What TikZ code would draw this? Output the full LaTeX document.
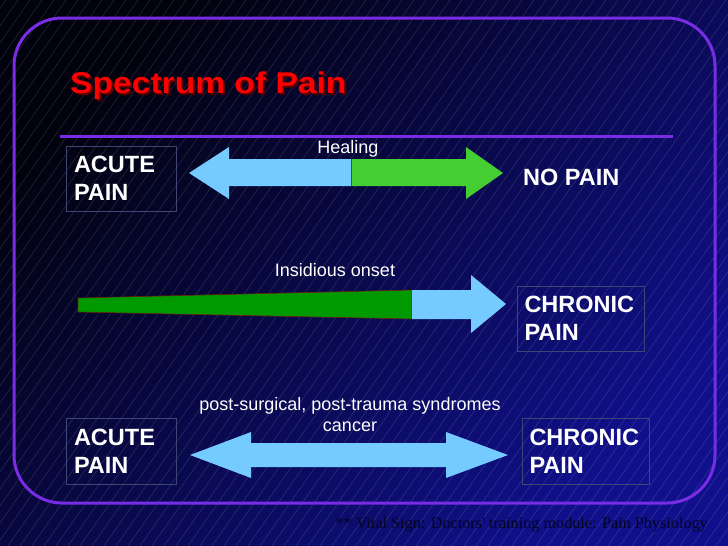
\documentclass[tikz,border=0pt]{standalone}
\usepackage{fontspec}
\setmainfont{Liberation Sans}
\newfontfamily\footfont{Liberation Serif}
\definecolor{bgdark}{RGB}{2,2,14}
\definecolor{bgblue}{RGB}{16,16,140}
\definecolor{framepurple}{RGB}{120,44,230}
\definecolor{boxgray}{RGB}{62,70,115}
\definecolor{arrowblue}{RGB}{117,202,255}
\definecolor{healgreen}{RGB}{68,206,52}
\definecolor{onsetgreen}{RGB}{0,154,0}
\definecolor{onsetedge}{RGB}{110,30,10}
\definecolor{titlered}{RGB}{255,0,0}
\definecolor{titleshadow}{RGB}{90,0,0}
\definecolor{footcol}{RGB}{4,4,36}
\begin{document}
\begin{tikzpicture}[x=1pt,y=-1pt,
  hatchline/.style={white,opacity=0.16,line width=0.5pt},
  labelbox/.style={draw=boxgray,line width=0.8pt,inner xsep=7.5pt,inner ysep=0pt,
    align=left,text=white,font=\bfseries\fontsize{23.5}{28}\selectfont},
  boldtxt/.style={text=white,font=\bfseries\fontsize{23.5}{28}\selectfont,inner sep=0pt},
  captxt/.style={text=white,font=\fontsize{18}{21}\selectfont,inner sep=0pt,align=center},
  bluearrow/.style={fill=arrowblue},
  greenarrow/.style={fill=healgreen},
  titletxt/.style={font=\bfseries\fontsize{30}{34}\selectfont,inner sep=0pt}
]
\useasboundingbox (0,0) rectangle (728,546);
% background
\shade[top color=bgdark,bottom color=bgblue,shading angle=45] (0,0) rectangle (728,546);
\begin{scope}
\clip (0,0) rectangle (728,546);
\foreach \x in {-400,-388,...,740} {
  \draw[hatchline] (\x,546) -- ++(382,-546);
}
\end{scope}
% frame
\draw[framepurple,line width=3pt,rounded corners=48pt] (14,18) rectangle (715,503);
% title
\node[titletxt,text=titleshadow,anchor=base west] (tshadow) at (72,95) {\scalebox{1.12}[1]{Spectrum of Pain}};
\node[titletxt,text=titlered,anchor=base west] (title) at (70,93) {\scalebox{1.12}[1]{Spectrum of Pain}};
% rule
\draw[framepurple,line width=3pt] (60,136) -- (673,136);

% row 1
\node[labelbox,text width=95pt,minimum height=65pt] (acute1) at (121.5,178.5) {ACUTE\\PAIN};
\coordinate (h1l) at (189,173);
\coordinate (h1r) at (503,173);
\fill[bluearrow] (h1l) -- (229,147) -- (229,159) -- (351,159) -- (351,186) -- (229,186) -- (229,199) -- cycle;
\fill[greenarrow] (351,159) -- (466,159) -- (466,147) -- (h1r) -- (466,199) -- (466,186) -- (351,186) -- cycle;
\draw[black!70,line width=0.6pt] (351,159) -- (351,186);
\node[captxt] (healing) at (348,149) {Healing};
\node[boldtxt,anchor=west] (nopain) at (523,177) {NO PAIN};

% row 2
\node[captxt] (onset) at (335,270) {Insidious onset};
\draw[fill=onsetgreen,draw=onsetedge,line width=0.6pt] (78,298) -- (412,290) -- (412,319) -- (78,312) -- cycle;
\coordinate (o2r) at (506,304);
\fill[bluearrow] (412,290) -- (471,290) -- (471,275) -- (o2r) -- (471,333) -- (471,319) -- (412,319) -- cycle;
\node[labelbox,text width=112pt,minimum height=65pt] (chronic2) at (580.5,318.5) {CHRONIC\\PAIN};

% row 3
\node[captxt] (causes) at (350,415) {post-surgical, post-trauma syndromes\\[0pt]cancer};
\node[labelbox,text width=95pt,minimum height=66pt] (acute3) at (121.5,451) {ACUTE\\PAIN};
\node[labelbox,text width=112pt,minimum height=66pt] (chronic3) at (585.5,451) {CHRONIC\\PAIN};
\coordinate (a3l) at (190,455);
\coordinate (a3r) at (508,455);
\fill[bluearrow] (a3l) -- (251,432) -- (251,443) -- (446,443) -- (446,432) -- (a3r) -- (446,478) -- (446,467) -- (251,467) -- (251,478) -- cycle;

% footer
\node[text=footcol,font=\footfont\fontsize{16.2}{18}\selectfont,anchor=base east,inner sep=0pt] (footer) at (708,528) {** Vital Sign: Doctors' training module: Pain Physiology};
\end{tikzpicture}
\end{document}
